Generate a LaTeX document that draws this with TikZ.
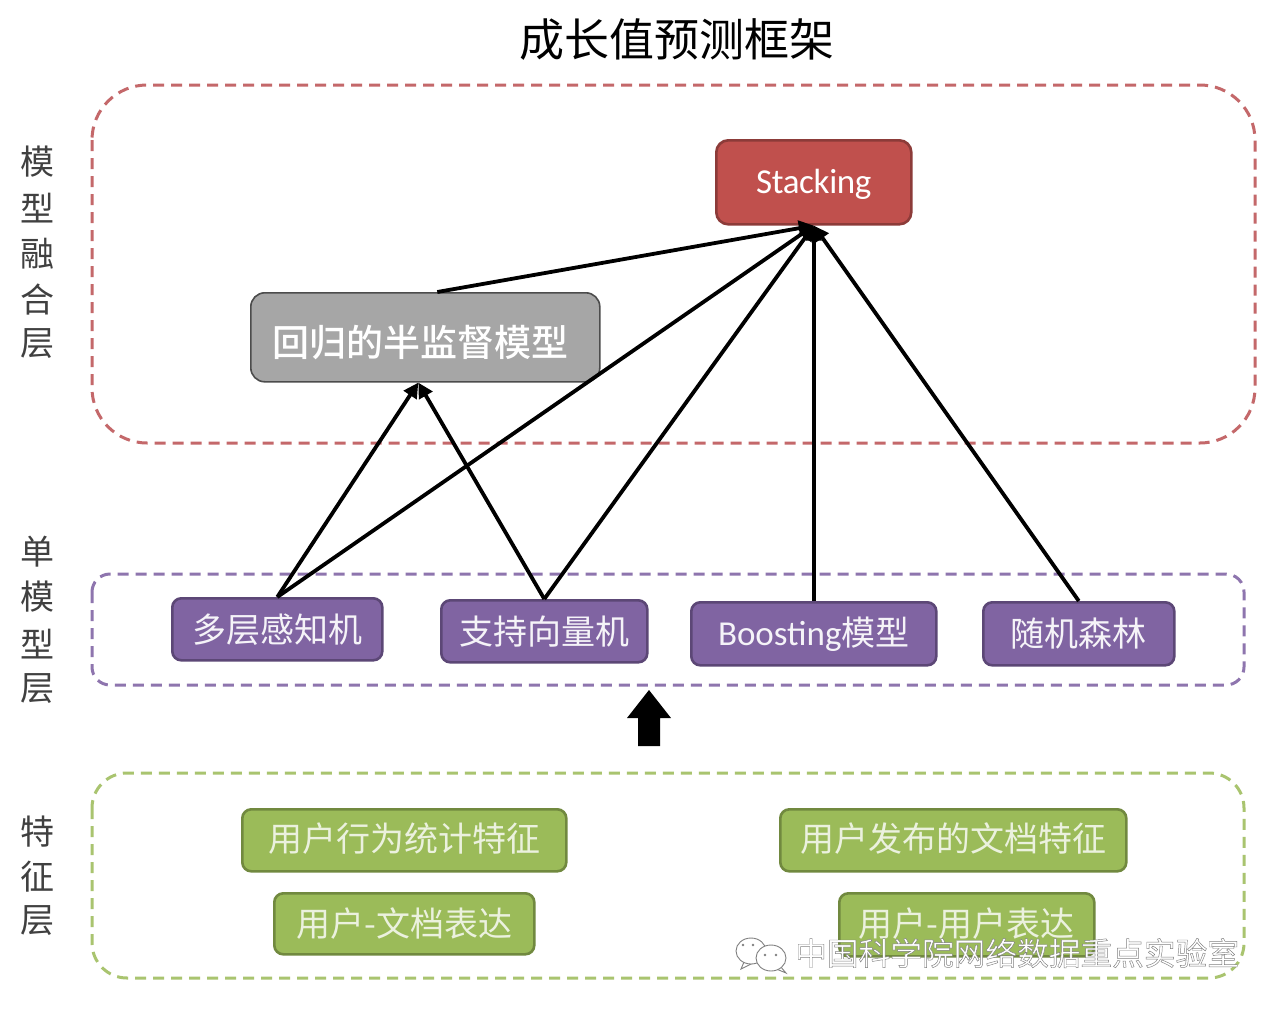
\documentclass[tikz,border=0pt]{standalone}
\usepackage{fontspec}
\setmainfont{Noto Sans CJK SC}
\newfontfamily\latinf{Carlito}
\usetikzlibrary{arrows.meta}
\definecolor{redf}{HTML}{C0504D}
\definecolor{redd}{HTML}{8C3B39}
\definecolor{purf}{HTML}{8064A2}
\definecolor{purd}{HTML}{5C4776}
\definecolor{gref}{HTML}{9BBB59}
\definecolor{gred}{HTML}{71893F}
\definecolor{gryf}{HTML}{A6A6A6}
\definecolor{redl}{HTML}{C4686A}
\definecolor{purl}{HTML}{8E75AE}
\definecolor{grel}{HTML}{A9C46F}
\tikzset{
 x=1pt,y=-1pt,
 box/.style={rounded corners=9pt,line width=2.6pt,inner sep=0pt,text=white,font=\fontsize{34}{34}\selectfont},
 rbox/.style={box,draw=redd,fill=redf,rounded corners=12pt},
 gbox/.style={box,draw=black!70,fill=gryf,line width=1.6pt,rounded corners=14pt,font=\fontsize{37}{37}\selectfont},
 pbox/.style={box,draw=purd,fill=purf,text=white!92!purf},
 lbox/.style={box,draw=gred,fill=gref,text=white!80!gref},
 zone/.style={dash pattern=on 11pt off 7pt,line width=3pt,fill=none},
 link/.style={line width=3.8pt,-{Triangle[length=15pt,width=15pt]},black},
 side/.style={font=\fontsize{34}{34}\selectfont,text=black!75,inner sep=0pt},
 wechat/.style={draw=black!50,fill=white,line width=.9pt},
}
\newcommand{\bx}[6]{\node[#1,minimum width=#4pt,minimum height=#5pt,anchor=north west,xshift=-1pt,yshift=1pt] (#2) at (#3) {#6};}
\newcommand{\lifted}[2]{\raisebox{#1}[20pt][20pt]{#2}}
\begin{document}
\begin{tikzpicture}
\useasboundingbox (0,0) rectangle (1280,1010);
\fill[white] (0,0) rectangle (1280,1010);
\node[inner sep=0pt,font=\fontsize{45}{45}\selectfont] (title) at (677,40) {成长值预测框架};
% zones
\draw[zone,draw=redl,rounded corners=55pt] (92,85) rectangle (1255,443);
\draw[zone,draw=purl,rounded corners=18pt] (92,574) rectangle (1244,685);
\draw[zone,draw=grel,rounded corners=35pt] (92,773) rectangle (1244,978);
% side labels
\foreach \ch/\yy in {模/162,型/208,融/254,合/299,层/344,单/552,模/597,型/644,层/689,特/832,征/877,层/921}
  \node[side] at (37,\yy) {\ch};
% boxes
\bx{rbox}{stack}{716,140}{195}{84}{\lifted{-11pt}{\latinf\fontsize{35}{35}\selectfont\addfontfeature{LetterSpace=-1}Stacking}}
\bx{gbox}{semi}{251,293}{349}{89}{\lifted{-19.5pt}{\hspace{-9pt}\fontspec{Noto Sans CJK SC Medium}回归的半监督模型}}
\bx{pbox}{mlp}{172,598}{210}{62}{多层感知机}
\bx{pbox}{svm}{441,600}{206}{62}{支持向量机}
\bx{pbox}{boost}{691,602}{245}{63}{{\latinf\fontsize{35}{35}\selectfont Boosting}模型}
\bx{pbox}{rf}{983,602}{191}{63}{随机森林}
\bx{lbox}{f1}{242,809}{324}{62}{\lifted{-11pt}{用户行为统计特征}}
\bx{lbox}{f2}{780,809}{346}{62}{\lifted{-11pt}{用户发布的文档特征}}
\bx{lbox}{f3}{274,893}{260}{61}{用户-文档表达}
\bx{lbox}{f4}{839,893}{255}{63}{\lifted{-12pt}{用户-用户表达}}
% connectors
\coordinate (semiin) at ([xshift=-7pt]semi.south);
\coordinate (semiout) at ([xshift=12pt]semi.north);
\draw[link] (semiout) -- (stack.south);
\draw[link] (mlp.north) -- (stack.south);
\draw[link] (svm.north) -- (stack.south);
\draw[link] (boost.north) -- (stack.south);
\draw[link] (rf.north) -- (stack.south);
\draw[link] (mlp.north) -- (semiin);
\draw[link] (svm.north) -- (semiin);
% block arrow
\fill[black] (638,746) -- (660,746) -- (660,718) -- (671,718) -- (649,690) -- (627,718) -- (638,718) -- cycle;
% watermark icon
\draw[wechat] (744,962) -- (741,969) -- (751,964) -- cycle;
\draw[wechat] (751,951) ellipse [x radius=15pt,y radius=13pt];
\draw[wechat] (780,966) -- (786,973) -- (774,968) -- cycle;
\draw[wechat] (771,958) ellipse [x radius=15pt,y radius=13pt];
\foreach \dx/\dy in {743/945,753/945,765/955,776/955}
  \fill[black!50] (\dx,\dy) circle [radius=1.3pt];
\node[inner sep=0pt,font=\fontsize{31.7}{32}\selectfont,anchor=west] (mark) at (795,953) {\special{pdf:code q 2 Tr 0.45 w 0.5 G 1 g}中国科学院网络数据重点实验室\special{pdf:code Q}};
\end{tikzpicture}
\end{document}
